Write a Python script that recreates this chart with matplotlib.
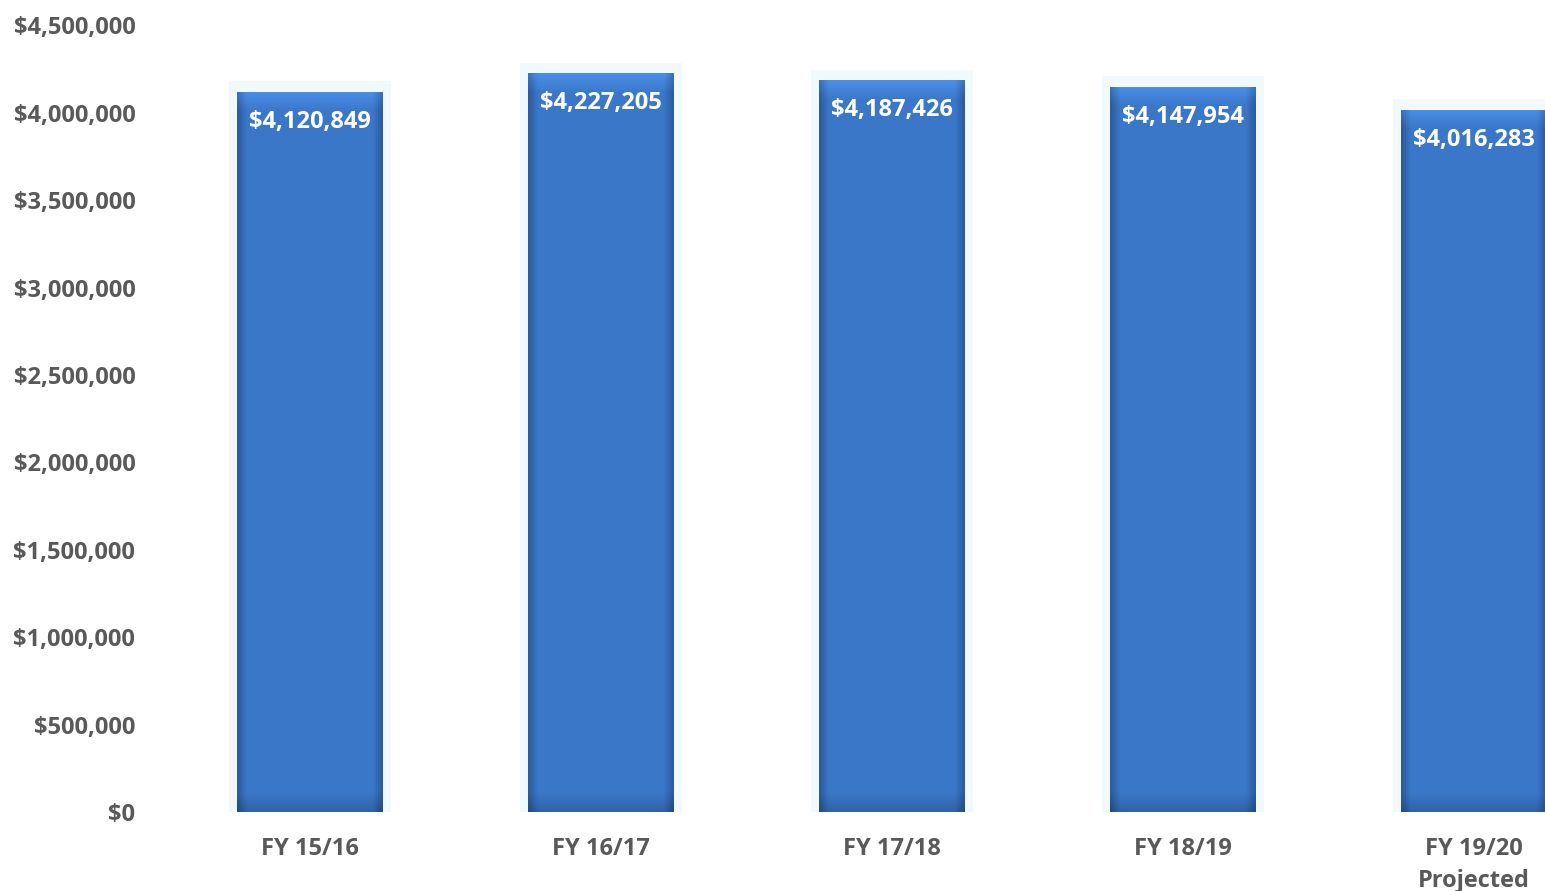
import numpy as np
import matplotlib.pyplot as plt
from matplotlib.ticker import FuncFormatter, MultipleLocator

years = ['FY 15/16', 'FY 16/17', 'FY 17/18', 'FY 18/19', 'FY 19/20\nProjected']
totals = [4120849, 4227205, 4187426, 4147954, 4016283]

GREY = '#595959'
plt.rcParams['font.family'] = ['Open Sans', 'DejaVu Sans']
plt.rcParams['font.weight'] = 'bold'

fig = plt.figure(figsize=(15.45, 8.91), dpi=100)
W, H = 1545, 891
left, right = 164.5, 1545
bottom, top = 812, 25.4
ax = fig.add_axes([left / W, (H - bottom) / H, (right - left) / W, (bottom - top) / H])

spacing = 291
x = np.arange(len(years))

# faint glow behind each bar
ax.bar(x, [t + 60000 for t in totals], width=0.56, color='#f1f9fc',
       edgecolor='none', zorder=1)
bars = ax.bar(x, totals, width=0.5, color='#3b78c8', edgecolor='none', zorder=2)

# shaded fill: darker at the sides and the bottom, a touch brighter at the top
nx, ny = 60, 300
u = np.linspace(0, 1, nx)
v = np.linspace(0, 1, ny)[:, None]       # 0 = top row
side = np.clip(np.minimum(u, 1 - u) / 0.06, 0, 1)[None, :]
mid = np.array([0.23, 0.47, 0.79])
edge = np.array([0.17, 0.36, 0.62])
shade = edge + (mid - edge) * side[..., None]
topglow = np.clip(1 - v / 0.025, 0, 1)[..., None]
low = np.clip((v - 0.975) / 0.025, 0, 1)[..., None]
shade = shade * (1 - 0.18 * low) + np.array([0.30, 0.45, 0.60]) * 0.2 * topglow
shade = np.broadcast_to(shade, (ny, nx, 3)).clip(0, 1)

for b, val in zip(bars, totals):
    x0, w, h = b.get_x(), b.get_width(), b.get_height()
    im = ax.imshow(shade, extent=(x0, x0 + w, 0, h), aspect='auto',
                   origin='upper', zorder=3, interpolation='bilinear')
    im.set_clip_path(b)
    ax.annotate(f'${val:,.0f}', (b.get_x() + w / 2, h), xytext=(0, -21.5),
                textcoords='offset points', ha='center', va='center',
                color='white', fontsize=17, fontweight='bold', zorder=4)

ax.set_xlim(-0.5, -0.5 + (right - left) / spacing)
ax.set_ylim(0, 4500000)
ax.yaxis.set_major_locator(MultipleLocator(500000))
ax.yaxis.set_major_formatter(FuncFormatter(lambda v, p: f'${v:,.0f}'))
ax.set_xticks(x)
ax.set_xticklabels(years, linespacing=1.45)
ax.tick_params(axis='y', length=0, pad=21, labelsize=17, labelcolor=GREY)
ax.tick_params(axis='x', length=0, pad=18, labelsize=17, labelcolor=GREY)
for s in ax.spines.values():
    s.set_visible(False)

fig.savefig('out.png', dpi=100)
